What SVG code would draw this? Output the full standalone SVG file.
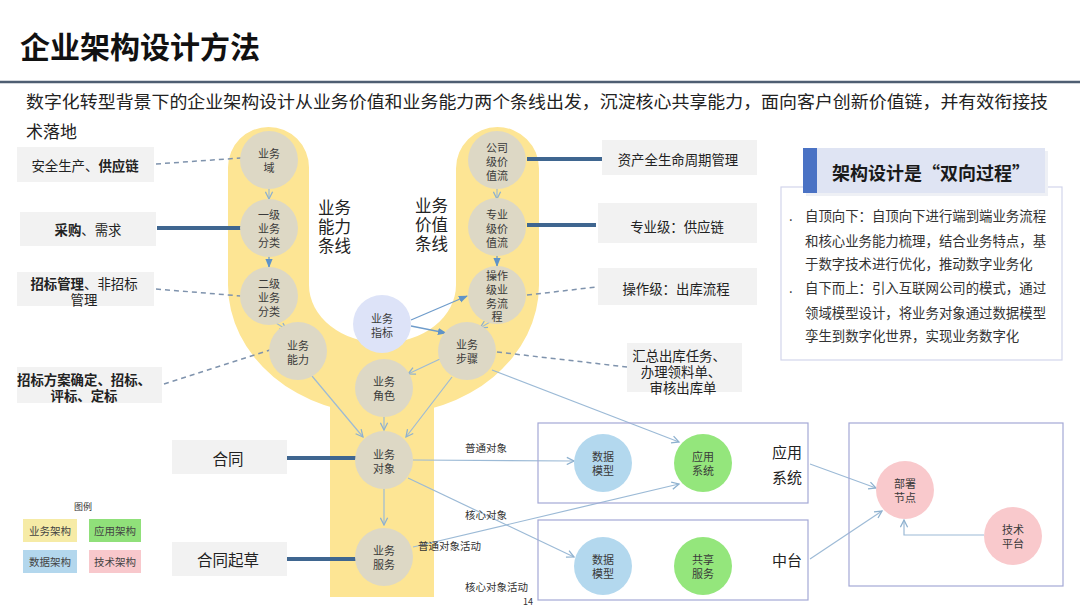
<svg xmlns="http://www.w3.org/2000/svg" width="1080" height="608" viewBox="0 0 1080 608">
<style>
text{font-family:"Noto Sans CJK SC","Noto Sans",sans-serif;fill:#222;dominant-baseline:central}
.c{text-anchor:middle}
.nt{font-size:11px;fill:#3a3a3a}
.biz{fill:#ddd8c5}
.lbl{fill:#f2f2f2}
.bt{font-size:13.4px}
.b{font-weight:bold}
.bl16{font-size:16.5px}
.dash{stroke:#7f93ad;stroke-width:1.5;stroke-dasharray:5 4;fill:none}
.thick{stroke:#3f6690;stroke-width:4;fill:none}
.lt{stroke:#9cbad6;stroke-width:1.2;fill:none;marker-end:url(#oa)}
.bl{stroke:#6f9ccb;stroke-width:1.3;fill:none;marker-end:url(#fa)}
.frame{fill:none;stroke:#a4a8d6;stroke-width:1.2}
.el{font-size:10.5px;fill:#333}
</style>
<defs>
<marker id="oa" viewBox="0 0 10 10" refX="9" refY="5" markerWidth="9" markerHeight="9" markerUnits="userSpaceOnUse" orient="auto">
<path d="M1,1 L9,5 L1,9" fill="none" stroke="#8eb1cf" stroke-width="1.4"/>
</marker>
<marker id="fa" viewBox="0 0 10 10" refX="9" refY="5" markerWidth="9" markerHeight="9" markerUnits="userSpaceOnUse" orient="auto">
<path d="M0,1 L10,5 L0,9 Z" fill="#5f93c8"/>
</marker>
</defs>
<rect width="1080" height="608" fill="#fff"/>

<g id="header">
<text x="20" y="45" style="font-size:30px;font-weight:bold;fill:#111">企业架构设计方法</text>
<line x1="0" y1="82" x2="1080" y2="82" stroke="#4e5e72" stroke-width="2.5"/>
<text x="26" y="100" style="font-size:17px" textLength="1022" lengthAdjust="spacingAndGlyphs">数字化转型背景下的企业架构设计从业务价值和业务能力两个条线出发，沉淀核心共享能力，面向客户创新价值链，并有效衔接技</text>
<text x="26" y="130" style="font-size:17px">术落地</text>
</g>

<g id="band">
<path d="M228,167.5 A40.5,40.5 0 0 1 309,167.5 L309,285 A73.5,58 0 0 0 456,285 L456,168.5 A41.5,41.5 0 0 1 539,168.5 L539,285 A155.5,130 0 0 1 228,285 Z" fill="#fde594"/>
<rect x="330" y="380" width="104" height="217" fill="#fde594"/>
</g>

<g id="band-labels">
<text class="bl16" x="318" y="207">业务<tspan x="318" dy="19">能力</tspan><tspan x="318" dy="19">条线</tspan></text>
<text class="bl16" x="415" y="205">业务<tspan x="415" dy="19">价值</tspan><tspan x="415" dy="19">条线</tspan></text>
</g>

<g id="connectors">
<line class="dash" x1="156" y1="164" x2="241" y2="158"/>
<line class="thick" x1="157" y1="228" x2="241" y2="228"/>
<line class="dash" x1="156" y1="289" x2="241" y2="296"/>
<line class="dash" x1="164" y1="384" x2="270" y2="350"/>
<line class="thick" x1="527" y1="159" x2="602" y2="159"/>
<line class="thick" x1="527" y1="225" x2="596" y2="225"/>
<line class="dash" x1="527" y1="295" x2="597" y2="287"/>
<line class="dash" x1="497" y1="352" x2="627" y2="367"/>
<line class="thick" x1="287" y1="458" x2="357" y2="458"/>
<line class="thick" x1="287" y1="559" x2="357" y2="559"/>

<line class="lt" x1="269" y1="189" x2="269" y2="199"/>
<line class="bl" x1="269" y1="256" x2="269" y2="267"/>
<line class="lt" x1="276" y1="323" x2="287" y2="330"/>
<line class="lt" x1="497" y1="189" x2="497" y2="199"/>
<line class="bl" x1="497" y1="256" x2="497" y2="266"/>
<line class="lt" x1="490" y1="322" x2="480" y2="328"/>
<line class="bl" x1="411" y1="320" x2="467" y2="296"/>
<line class="bl" x1="411" y1="326" x2="446" y2="333"/>
<line class="lt" x1="440" y1="359" x2="408" y2="374"/>
<line class="lt" x1="312" y1="376" x2="363" y2="437"/>
<line class="lt" x1="384" y1="417" x2="384" y2="430"/>
<line class="lt" x1="452" y1="377" x2="406" y2="437"/>
<line class="lt" x1="384" y1="489" x2="384" y2="525"/>

<line class="lt" x1="413" y1="460" x2="574" y2="461"/>
<line class="lt" x1="408" y1="478" x2="574" y2="557"/>
<line class="lt" x1="413" y1="547" x2="679" y2="484"/>
<line class="lt" x1="492" y1="370" x2="679" y2="442"/>
<line class="lt" x1="810" y1="464" x2="876" y2="488"/>
<line class="lt" x1="810" y1="559" x2="882" y2="511"/>
<polyline class="lt" points="984,535 904,535 904,520"/>

<text class="el" x="465" y="447">普通对象</text>
<text class="el" x="465" y="514">核心对象</text>
<text class="el" x="418" y="545">普通对象活动</text>
<text class="el" x="465" y="586">核心对象活动</text>
</g>

<g id="n-domain"><circle class="biz" cx="269" cy="160" r="29"/><text class="c nt" x="269" y="153">业务<tspan x="269" dy="14">域</tspan></text></g>
<g id="n-l1"><circle class="biz" cx="269" cy="228" r="29"/><text class="c nt" x="269" y="214">一级<tspan x="269" dy="14">业务</tspan><tspan x="269" dy="14">分类</tspan></text></g>
<g id="n-l2"><circle class="biz" cx="269" cy="296" r="29"/><text class="c nt" x="269" y="283">二级<tspan x="269" dy="14">业务</tspan><tspan x="269" dy="14">分类</tspan></text></g>
<g id="n-cap"><circle class="biz" cx="298" cy="351" r="29"/><text class="c nt" x="298" y="345">业务<tspan x="298" dy="14">能力</tspan></text></g>
<g id="n-kpi"><circle cx="382" cy="324" r="29" fill="#dde3f8"/><text class="c nt" x="382" y="318">业务<tspan x="382" dy="14">指标</tspan></text></g>
<g id="n-role"><circle class="biz" cx="384" cy="388" r="29"/><text class="c nt" x="384" y="381">业务<tspan x="384" dy="14">角色</tspan></text></g>
<g id="n-step"><circle class="biz" cx="467" cy="351" r="29"/><text class="c nt" x="467" y="344">业务<tspan x="467" dy="14">步骤</tspan></text></g>
<g id="n-v1"><circle class="biz" cx="497" cy="160" r="29"/><text class="c nt" x="497" y="147">公司<tspan x="497" dy="14">级价</tspan><tspan x="497" dy="14">值流</tspan></text></g>
<g id="n-v2"><circle class="biz" cx="497" cy="227" r="29"/><text class="c nt" x="497" y="214">专业<tspan x="497" dy="14">级价</tspan><tspan x="497" dy="14">值流</tspan></text></g>
<g id="n-v3"><circle class="biz" cx="497" cy="295" r="29"/><text class="c nt" x="497" y="275">操作<tspan x="497" dy="14">级业</tspan><tspan x="497" dy="14">务流</tspan><tspan x="497" dy="13">程</tspan></text></g>
<g id="n-obj"><circle class="biz" cx="384" cy="460" r="29"/><text class="c nt" x="384" y="454">业务<tspan x="384" dy="14">对象</tspan></text></g>
<g id="n-svc"><circle class="biz" cx="384" cy="557" r="29"/><text class="c nt" x="384" y="550">业务<tspan x="384" dy="14">服务</tspan></text></g>

<g id="l-safe"><rect class="lbl" x="17" y="147" width="137" height="35"/><text class="c bt" x="85" y="165">安全生产、<tspan class="b">供应链</tspan></text></g>
<g id="l-buy"><rect class="lbl" x="20" y="212" width="136" height="34"/><text class="c bt" x="88" y="229"><tspan class="b">采购</tspan>、需求</text></g>
<g id="l-bid"><rect class="lbl" x="17" y="272" width="137" height="34"/><text class="c bt" x="84" y="283"><tspan class="b">招标管理</tspan>、非招标<tspan x="84" dy="16">管理</tspan></text></g>
<g id="l-plan"><rect class="lbl" x="17" y="367" width="145" height="36"/><text class="c bt b" x="84" y="379">招标方案确定、招标、<tspan x="84" dy="16">评标、定标</tspan></text></g>

<g id="r-asset"><rect class="lbl" x="602" y="140" width="155" height="35"/><text class="c bt" x="678" y="159">资产全生命周期管理</text></g>
<g id="r-prof"><rect class="lbl" x="598" y="203" width="159" height="40"/><text class="c bt" x="677" y="226">专业级：供应链</text></g>
<g id="r-op"><rect class="lbl" x="598" y="268" width="159" height="37"/><text class="c bt" x="676" y="288">操作级：出库流程</text></g>
<g id="r-task"><rect class="lbl" x="627" y="343" width="115" height="49"/><text class="c bt" x="679" y="355">汇总出库任务、<tspan x="681" dy="16">办理领料单、</tspan><tspan x="683" dy="16">审核出库单</tspan></text></g>

<g id="l-contract"><rect class="lbl" x="172" y="440" width="115" height="34"/><text class="c" x="228" y="458" style="font-size:15.5px">合同</text></g>
<g id="l-draft"><rect class="lbl" x="172" y="542" width="115" height="34"/><text class="c" x="228" y="559" style="font-size:15.5px">合同起草</text></g>

<g id="panel">
<rect x="781" y="187" width="281" height="173" fill="#fff" stroke="#d2d5ec" stroke-width="1.2"/>
<rect x="806" y="151" width="242" height="45" fill="#eef0f5"/>
<rect x="803" y="148" width="242" height="45" fill="#dfe4f3"/>
<rect x="803" y="148" width="14" height="45" fill="#4a72c4"/>
<text x="832" y="172" style="font-size:18px;font-weight:bold;fill:#1a1a1a">架构设计是“双向过程”</text>
<text x="789" y="215" style="font-size:13px">.</text>
<text x="789" y="287" style="font-size:13px">.</text>
<text class="bt" x="805" y="215" style="fill:#333">自顶向下：自顶向下进行端到端业务流程<tspan x="805" dy="24.5">和核心业务能力梳理，结合业务特点，基</tspan><tspan x="805" dy="23.5">于数字技术进行优化，推动数字业务化</tspan><tspan x="805" dy="24">自下而上：引入互联网公司的模式，通过</tspan><tspan x="805" dy="24.5">领域模型设计，将业务对象通过数据模型</tspan><tspan x="805" dy="23.5">孪生到数字化世界，实现业务数字化</tspan></text>
</g>

<g id="app-frame">
<rect class="frame" x="538" y="423" width="270" height="80"/>
<text x="772" y="451" style="font-size:15px">应用<tspan x="772" dy="25">系统</tspan></text>
</g>
<g id="mid-frame">
<rect class="frame" x="538" y="520" width="270" height="80"/>
<text x="772" y="559" style="font-size:15px">中台</text>
</g>
<g id="tech-frame"><rect class="frame" x="849" y="423" width="214" height="163"/></g>

<g id="n-dm1"><circle cx="603" cy="463" r="29" fill="#b3d8ee"/><text class="c nt" x="603" y="456">数据<tspan x="603" dy="14">模型</tspan></text></g>
<g id="n-app"><circle cx="703" cy="463" r="29" fill="#94e67c"/><text class="c nt" x="703" y="456">应用<tspan x="703" dy="14">系统</tspan></text></g>
<g id="n-dm2"><circle cx="603" cy="566" r="29" fill="#b3d8ee"/><text class="c nt" x="603" y="559">数据<tspan x="603" dy="14">模型</tspan></text></g>
<g id="n-share"><circle cx="703" cy="566" r="29" fill="#94e67c"/><text class="c nt" x="703" y="559">共享<tspan x="703" dy="14">服务</tspan></text></g>
<g id="n-deploy"><circle cx="905" cy="490" r="29" fill="#f9c9cc"/><text class="c nt" x="905" y="483">部署<tspan x="905" dy="14">节点</tspan></text></g>
<g id="n-tech"><circle cx="1013" cy="536" r="29" fill="#f9c9cc"/><text class="c nt" x="1013" y="529">技术<tspan x="1013" dy="14">平台</tspan></text></g>

<g id="legend">
<text class="c" x="83" y="506" style="font-size:9px;fill:#333">图例</text>
<rect x="23" y="519" width="54" height="23" fill="#f6eba6"/>
<text class="c" x="50" y="530.5" style="font-size:10.5px;fill:#444">业务架构</text>
<rect x="89" y="519" width="52" height="23" fill="#90e07a"/>
<text class="c" x="115" y="530.5" style="font-size:10.5px;fill:#444">应用架构</text>
<rect x="23" y="550" width="54" height="23" fill="#b3d7ed"/>
<text class="c" x="50" y="561.5" style="font-size:10.5px;fill:#444">数据架构</text>
<rect x="89" y="550" width="52" height="23" fill="#f8c8cc"/>
<text class="c" x="115" y="561.5" style="font-size:10.5px;fill:#444">技术架构</text>
</g>

<text x="528" y="601" class="c" style="font-size:9px;fill:#333">14</text>
</svg>
